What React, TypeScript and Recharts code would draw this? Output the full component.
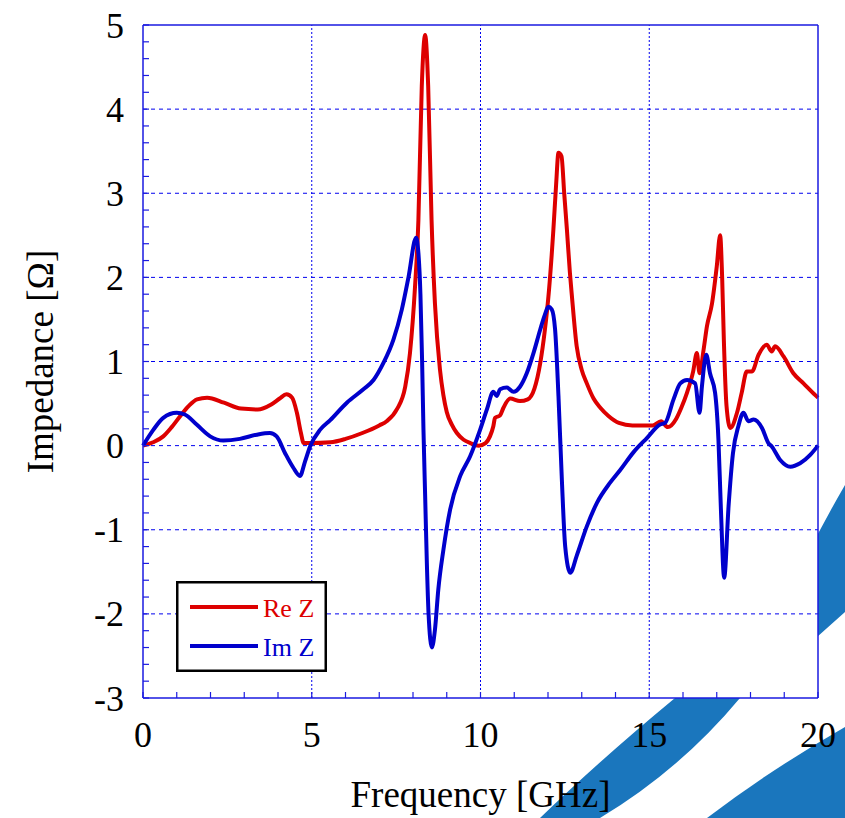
import React from 'react';
import { LineChart, Line, XAxis, YAxis, CartesianGrid, ReferenceLine, Legend } from 'recharts';

// Re Z: [GHz, ohm]
const reFreq = [0, 0.3, 0.6, 0.85, 1.1, 1.35, 1.6, 1.9, 2.4, 2.9, 3.4, 3.8, 4.05, 4.25, 4.42, 4.56, 4.68, 4.76, 4.95, 5.55, 6.0, 6.5, 7.0, 7.22, 7.52, 7.77, 7.91, 8.06, 8.16, 8.26, 8.36, 8.45, 8.55, 8.65, 8.8, 8.9, 9.0, 9.15, 9.3, 9.5, 9.7, 9.95, 10.15, 10.28, 10.38, 10.43, 10.58, 10.68, 10.88, 11.17, 11.4, 11.6, 11.77, 11.9, 12.03, 12.16, 12.24, 12.31, 12.4, 12.48, 12.56, 12.65, 12.71, 12.85, 13.0, 13.15, 13.35, 13.55, 13.8, 14.1, 14.5, 15.1, 15.35, 15.55, 15.8, 15.95, 16.12, 16.3, 16.41, 16.49, 16.61, 16.71, 16.86, 17.0, 17.1, 17.16, 17.21, 17.29, 17.4, 17.6, 17.74, 17.89, 18.04, 18.24, 18.48, 18.63, 18.73, 18.98, 19.27, 19.57, 19.92, 20.0];
const reVals = [0, 0.04, 0.11, 0.22, 0.35, 0.47, 0.55, 0.57, 0.51, 0.44, 0.43, 0.49, 0.56, 0.61, 0.57, 0.39, 0.15, 0.03, 0.03, 0.04, 0.08, 0.15, 0.24, 0.29, 0.43, 0.7, 1.1, 1.89, 2.68, 4.27, 4.88, 4.27, 2.68, 1.69, 0.9, 0.6, 0.4, 0.25, 0.15, 0.07, 0.03, 0.0, 0.03, 0.11, 0.23, 0.33, 0.36, 0.45, 0.56, 0.53, 0.55, 0.68, 0.98, 1.35, 1.85, 2.57, 3.1, 3.48, 3.44, 3.0, 2.57, 2.05, 1.77, 1.18, 0.9, 0.74, 0.56, 0.45, 0.35, 0.27, 0.24, 0.24, 0.29, 0.22, 0.32, 0.45, 0.63, 0.88, 1.1, 0.86, 1.14, 1.42, 1.69, 2.13, 2.5, 2.0, 1.26, 0.47, 0.21, 0.39, 0.63, 0.88, 0.88, 1.08, 1.2, 1.12, 1.18, 1.06, 0.86, 0.74, 0.6, 0.57];

// Im Z
const imFreq = [0, 0.31, 0.6, 1.0, 1.24, 1.59, 1.99, 2.38, 2.87, 3.37, 3.76, 3.96, 4.21, 4.45, 4.65, 4.8, 4.95, 5.25, 5.54, 6.04, 6.53, 6.83, 7.12, 7.42, 7.67, 7.87, 8.09, 8.16, 8.22, 8.27, 8.31, 8.36, 8.41, 8.46, 8.56, 8.65, 8.75, 8.9, 9.1, 9.4, 9.69, 9.99, 10.19, 10.38, 10.48, 10.58, 10.78, 10.98, 11.17, 11.37, 11.57, 11.77, 11.91, 12.01, 12.11, 12.21, 12.31, 12.41, 12.51, 12.66, 12.85, 13.15, 13.45, 13.84, 14.14, 14.53, 14.93, 15.32, 15.47, 15.72, 15.92, 16.12, 16.36, 16.49, 16.56, 16.69, 16.8, 16.95, 17.05, 17.12, 17.22, 17.35, 17.48, 17.64, 17.79, 17.94, 18.09, 18.34, 18.53, 18.63, 18.88, 19.18, 19.47, 19.77, 20.0];
const imVals = [0, 0.19, 0.33, 0.39, 0.37, 0.25, 0.11, 0.06, 0.08, 0.13, 0.15, 0.11, -0.09, -0.26, -0.36, -0.19, -0.01, 0.19, 0.3, 0.51, 0.67, 0.78, 0.98, 1.26, 1.62, 2.01, 2.47, 2.29, 1.8, 1.0, 0.19, -0.6, -1.39, -1.99, -2.4, -2.19, -1.71, -1.24, -0.76, -0.36, -0.13, 0.19, 0.43, 0.64, 0.59, 0.67, 0.69, 0.64, 0.7, 0.86, 1.1, 1.38, 1.56, 1.65, 1.62, 1.38, 0.59, -0.4, -1.2, -1.51, -1.31, -0.96, -0.68, -0.44, -0.29, -0.08, 0.09, 0.25, 0.27, 0.55, 0.74, 0.78, 0.74, 0.39, 0.7, 1.08, 0.86, 0.63, 0.07, -0.72, -1.57, -0.72, -0.09, 0.23, 0.39, 0.29, 0.31, 0.21, 0.03, -0.01, -0.17, -0.25, -0.21, -0.11, 0.0];

const seriesNames = ['Re Z', 'Im Z'];
const xTitle = 'Frequency [GHz]';
const yTitle = 'Impedance [Ω]';
const xTicks = [0, 1, 2, 3, 4, 5, 6, 7, 8, 9, 10, 11, 12, 13, 14, 15, 16, 17, 18, 19, 20];
const xLabels = [0, 5, 10, 15, 20];
const yTicks = Array.from({ length: 41 }, (_, i) => Math.round((-3 + i * 0.2) * 10) / 10);
const yLabels = [-3, -2, -1, 0, 1, 2, 3, 4, 5];
const xGrid = [5, 10, 15];
const yGrid = [-2, -1, 0, 1, 2, 3, 4];

const reData = reFreq.map((f, i) => ({ f, v: reVals[i] }));
const imData = imFreq.map((f, i) => ({ f, v: imVals[i] }));

const W = 845;
const H = 818;
const MARGIN = { top: 20, right: 22, bottom: 0, left: 0 };
const LEFT_W = 143;
const BOTTOM_H = 120;
const PLOT_LEFT = MARGIN.left + LEFT_W;
const PLOT_RIGHT = W - MARGIN.right - 5;
const PLOT_TOP = MARGIN.top + 5;
const PLOT_BOTTOM = H - MARGIN.bottom - BOTTOM_H;

const RED = '#dd0000';
const BLUE = '#0000cc';
const FRAME = '#1a1ae0';
const GRID = '#0000ee';
const FONT = "'Liberation Serif', 'Times New Roman', serif";

const BottomTick = ({ x, y, payload }: any) => (
  <g>
    <line x1={x} y1={y} x2={x} y2={y - 6} stroke={FRAME} strokeWidth={1.2} />
    {xLabels.includes(payload.value) && (
      <text x={x} y={y + 49} textAnchor="middle" style={{ fontFamily: FONT, fontSize: 36 }} fill="#000">
        {payload.value}
      </text>
    )}
  </g>
);

const TopTick = ({ x, y }: any) => <line x1={x} y1={y} x2={x} y2={y + 6} stroke={FRAME} strokeWidth={1.2} />;

const LeftTick = ({ x, y, payload }: any) => (
  <g>
    <line x1={x} y1={y} x2={x + 6} y2={y} stroke={FRAME} strokeWidth={1.2} />
    {yLabels.includes(payload.value) && (
      <text x={x - 19} y={y + 12.5} textAnchor="end" style={{ fontFamily: FONT, fontSize: 36 }} fill="#000">
        {payload.value}
      </text>
    )}
  </g>
);

const RightTick = ({ x, y }: any) => <line x1={x} y1={y} x2={x - 6} y2={y} stroke={FRAME} strokeWidth={1.2} />;

const renderLegend = (props: any) => {
  const items = [...(props.payload || [])].sort(
    (a: any, b: any) => seriesNames.indexOf(a.value) - seriesNames.indexOf(b.value)
  );
  return (
    <svg width={151} height={91} style={{ display: 'block' }}>
      <rect x={1.25} y={1.25} width={148.5} height={88.5} fill="#fff" stroke="#000" strokeWidth={2.5} />
      {items.map((it: any, i: number) => (
        <g key={it.value}>
          <line x1={14} x2={82} y1={26 + i * 39} y2={26 + i * 39} stroke={it.color} strokeWidth={4} />
          <text x={87} y={36 + i * 39} style={{ fontFamily: FONT, fontSize: 26 }} fill={it.color}>
            {it.value}
          </text>
        </g>
      ))}
    </svg>
  );
};

export default function App() {
  const yCx = 40;
  const yCy = (PLOT_TOP + PLOT_BOTTOM) / 2;
  return (
    <div style={{ position: 'absolute', left: 0, top: 0, width: W, height: H, background: '#fff', overflow: 'hidden' }}>
      {/* background swoosh of the slide */}
      <svg width={W} height={H} style={{ position: 'absolute', left: 0, top: 0 }}>
        <path d="M 845 485 Q 790 580 740 698 Q 680 770 600 818 L 540 818 Q 600 760 675 698 L 817 637 L 845 612 Z" fill="#1a76bd" />
        <path d="M 845 727 Q 770 770 707 818 L 845 818 Z" fill="#1a76bd" />
      </svg>
      <div style={{ position: 'absolute', left: 0, top: 0 }}>
        <LineChart width={W} height={H} margin={MARGIN}>
          <CartesianGrid horizontal={false} vertical={false} fill="#ffffff" />
          {yGrid.map((v) => (
            <ReferenceLine key={'h' + v} y={v} stroke={GRID} strokeWidth={1} strokeDasharray="4 4" />
          ))}
          {xGrid.map((v) => (
            <ReferenceLine key={'v' + v} x={v} stroke={GRID} strokeWidth={1} strokeDasharray="2 2" />
          ))}
          <XAxis
            dataKey="f"
            type="number"
            domain={[0, 20]}
            ticks={xTicks}
            interval={0}
            height={BOTTOM_H}
            tickSize={0}
            tickMargin={0}
            tickLine={false}
            axisLine={{ stroke: FRAME, strokeWidth: 1.5 }}
            tick={BottomTick}
            allowDuplicatedCategory={false}
          />
          <XAxis
            xAxisId="top"
            orientation="top"
            type="number"
            domain={[0, 20]}
            ticks={xTicks}
            interval={0}
            height={5}
            tickSize={0}
            tickMargin={0}
            tickLine={false}
            axisLine={{ stroke: FRAME, strokeWidth: 1.5 }}
            tick={TopTick}
          />
          <YAxis
            type="number"
            domain={[-3, 5]}
            ticks={yTicks}
            interval={0}
            width={LEFT_W}
            tickSize={0}
            tickMargin={0}
            tickLine={false}
            axisLine={{ stroke: FRAME, strokeWidth: 1.5 }}
            tick={LeftTick}
          />
          <YAxis
            yAxisId="right"
            orientation="right"
            type="number"
            domain={[-3, 5]}
            ticks={yTicks}
            interval={0}
            width={5}
            tickSize={0}
            tickMargin={0}
            tickLine={false}
            axisLine={{ stroke: FRAME, strokeWidth: 1.5 }}
            tick={RightTick}
          />
          <Legend
            layout="vertical"
            align="center"
            verticalAlign="middle"
            content={renderLegend}
            wrapperStyle={{ left: 176, top: 581, width: 151, height: 91 }}
          />
          <Line data={reData} dataKey="v" name={seriesNames[0]} type="monotone" stroke={RED} strokeWidth={4} dot={false} isAnimationActive={false} />
          <Line data={imData} dataKey="v" name={seriesNames[1]} type="monotone" stroke={BLUE} strokeWidth={4} dot={false} isAnimationActive={false} />
        </LineChart>
      </div>
      {/* axis titles */}
      <svg width={W} height={H} style={{ position: 'absolute', left: 0, top: 0, pointerEvents: 'none' }}>
        <text x={(PLOT_LEFT + PLOT_RIGHT) / 2} y={PLOT_BOTTOM + 109} textAnchor="middle" style={{ fontFamily: FONT, fontSize: 37 }} fill="#000">
          {xTitle}
        </text>
        <text x={yCx} y={yCy} transform={`rotate(-90 ${yCx} ${yCy})`} textAnchor="middle" dominantBaseline="central" style={{ fontFamily: FONT, fontSize: 37 }} fill="#000">
          {yTitle}
        </text>
      </svg>
    </div>
  );
}
